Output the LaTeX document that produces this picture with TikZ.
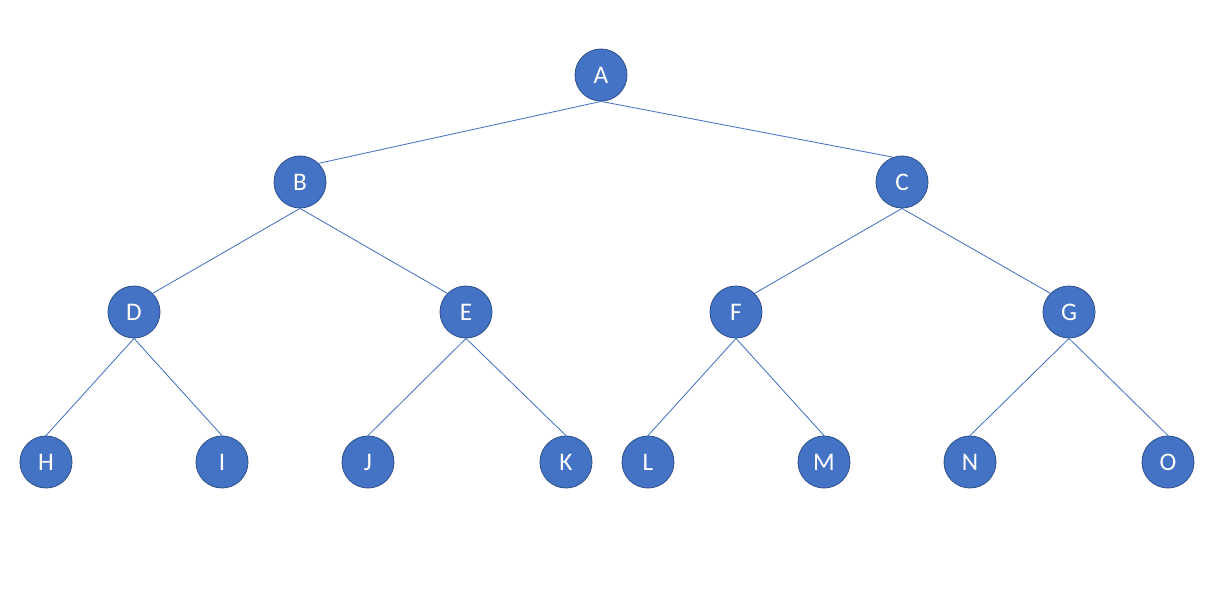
\documentclass[tikz,border=0pt]{standalone}
\usepackage{fontspec}
\setmainfont{Carlito}
\usetikzlibrary{positioning}
\definecolor{nodeblue}{HTML}{4472C4}
\definecolor{rimblue}{HTML}{2F528F}
\tikzset{
  tn/.style={circle,draw=rimblue,fill=nodeblue,line width=0.6pt,inner sep=0pt,
             minimum size=1.3cm,text=white,font=\fontsize{18}{18}\selectfont},
  edge/.style={draw=nodeblue,line width=0.6pt},
  every picture/.style={line cap=round,line join=round}}
\begin{document}
\begin{tikzpicture}[x=0.025cm,y=-0.025cm]
  \useasboundingbox (0,0) rectangle (1227,598);
  \node[tn] (a) at (601,75) {A};
  \node[tn] (b) at (300,182) {B}; \node[tn] (c) at (902,182) {C};
  \node[tn] (d) at (134,312) {D}; \node[tn] (e) at (466,312) {E};
  \node[tn] (f) at (736,312) {F}; \node[tn] (g) at (1069,312) {G};
  \node[tn] (h) at (46,462) {H}; \node[tn] (i) at (222,462) {I};
  \node[tn] (j) at (368,462) {J}; \node[tn] (k) at (566,462) {K};
  \node[tn] (l) at (648,462) {L}; \node[tn] (m) at (824,462) {M};
  \node[tn] (n) at (970,462) {N}; \node[tn] (o) at (1168,462) {O};
  % edges leave from the bottom of the parent
  \draw[edge] (a.south)--(b.north east) (a.south)--(c.110);
  \draw[edge] (b.south)--(d.north east) (b.south)--(e.north west);
  \draw[edge] (c.south)--(f.north east) (c.south)--(g.north west);
  \draw[edge] (d.south)--(h.north) (d.south)--(i.north) (e.south)--(j.north) (e.south)--(k.north);
  \draw[edge] (f.south)--(l.north) (f.south)--(m.north) (g.south)--(n.north) (g.south)--(o.north);
\end{tikzpicture}
\end{document}
